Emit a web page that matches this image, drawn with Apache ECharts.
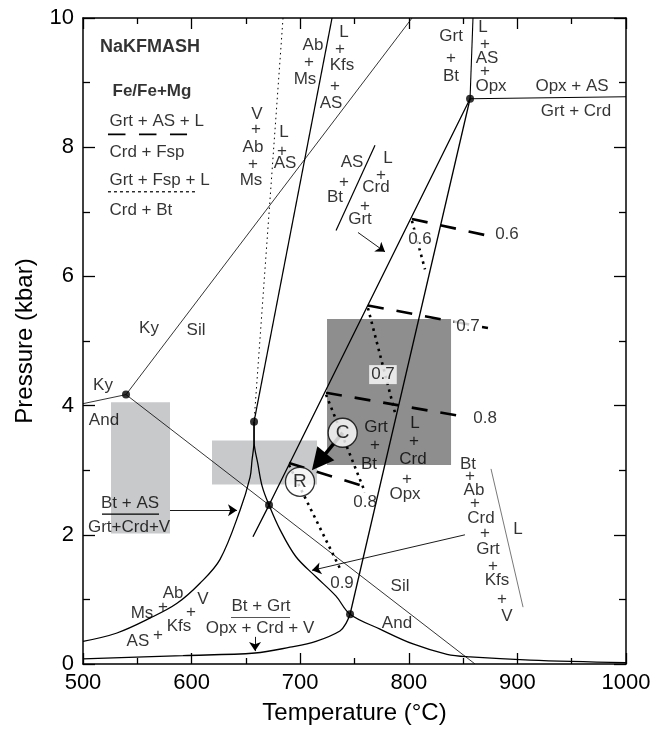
<!DOCTYPE html>
<html><head><meta charset="utf-8">
<script src="https://cdn.jsdelivr.net/npm/echarts@6/dist/echarts.min.js"></script>
<style>html,body{margin:0;padding:0;background:#fff}#c{width:665px;height:730px}</style>
</head><body><div id="c"></div>
<script>
// ---------- data (T in °C, P in kbar) ----------
const kyAnd = [[500,4.03],[539.6,4.17]];
const kySil = [[539.6,4.17],[803,10]];
const silAnd = [[539.6,4.17],[861,0]];
const wetSolidus = [[684.2,10],[657.5,3.75]];
const msMelt = [[729.3,10],[657.5,3.75]];
const cuspLeft = [[657.5,3.75],[657.5,3.46],[655.6,3.15],[653.8,2.89],[644.6,2.38],[626.2,1.62],[607.7,1.25],[586.6,0.94],[561.7,0.71],[531.3,0.48],[500,0.35]];
const cuspRight = [[657.5,3.75],[657.5,3.46],[661.1,3.09],[665,2.75],[671.3,2.46],[681.4,2.08],[696.1,1.66],[714.5,1.35],[733,1.05],[745.9,0.77],[773.5,0.54],[803.9,0.31],[835.2,0.15],[856.4,0.11],[911.6,0.06],[1000,0.02]];
const btGrtCurve = [[500,0.08],[592,0.13],[658.4,0.17],[690.6,0.26],[714.5,0.35],[736.6,0.51],[742.2,0.63],[745.9,0.77]];
const longLine = [[856.4,8.75],[671.3,2.46],[656.5,1.97]];
const steepLine = [[856.4,8.75],[745.9,0.77]];
const upLine = [[856.4,8.75],[859.1,10]];
const opxLine = [[856.4,8.75],[1000,8.78]];
const sepLineA = [[768.9,8.03],[733.0,6.71]];
const sepLineB = [[875.7,3.02],[905.2,0.88]];
const dashed06 = [[802.9,6.89],[872.9,6.63]];
const dashed07 = [[762.4,5.55],[872.9,5.2]];
const dashed08 = [[723.8,4.2],[853.6,3.82]];
const dashed09 = [[689.7,3.11],[764.3,2.72]];
const dotted06 = [[802.9,6.86],[814.9,6.11]];
const dotted07 = [[762.4,5.51],[787.3,3.89]];
const dotted08 = [[723.8,4.17],[759.7,2.66]];
const dotted09 = [[689.7,3.08],[736.6,1.48]];
const invariantPoints = [[539.6,4.17],[657.5,3.75],[671.3,2.46],[745.9,0.77],[856.4,8.75]];
const lightRects = [[[525.8,2.02],[580.1,4.05]],[[618.8,2.78],[715.5,3.46]]];
const darkRect = [[724.7,3.08],[838.9,5.34]];
const legendDash = [[523.0,8.2],[595.8,8.2]];
const legendDot = [[523.0,7.31],[605.0,7.31]];
const fracBtAS = [[517.5,2.32],[570.0,2.32]];
const fracBtGrt = [[636.3,0.72],[690.6,0.72]];
const thinArrows = [[[580.1,2.38],[641.8,2.38]],[[658.4,0.42],[658.4,0.2]],[[851.7,2.0],[710.9,1.45]],[[753.2,6.68],[778.1,6.38]]];
const arrowCR = [[739.1,3.58],[717.2,3.13]];
const circles = [[739.1,3.58,'C'],[699.8,2.82,'R']];
const boldLabels = [[561.7,9.55,'NaKFMASH'],[563.5,8.86,'Fe/Fe+Mg']];
const leftLabels = [[523.9,8.4,'Grt + AS + L'],[523.9,7.92,'Crd + Fsp'],[523.9,7.48,'Grt + Fsp + L'],[523.9,7.02,'Crd + Bt']];
const boxedLabels = [[810.3,6.58,'0.6'],[776.2,4.48,'0.7'],[854.5,5.23,'0.7']];
const labels = [
 [711.8,9.58,'Ab'],[708.1,9.31,'+'],[704.4,9.05,'Ms'],
 [740.3,9.78,'L'],[736.6,9.52,'+'],[738.5,9.26,'Kfs'],[732.0,8.94,'+'],[728.4,8.68,'AS'],
 [838.9,9.71,'Grt'],[838.9,9.38,'+'],[838.9,9.09,'Bt'],
 [868.3,9.86,'L'],[870.2,9.6,'+'],[872.0,9.38,'AS'],[870.2,9.18,'+'],[875.7,8.94,'Opx'],
 [660.2,8.51,'V'],[659.3,8.28,'+'],[656.5,8.0,'Ab'],[656.5,7.74,'+'],[654.7,7.49,'Ms'],
 [685.1,8.23,'L'],[683.2,7.94,'+'],[686.0,7.75,'AS'],
 [747.7,7.77,'AS'],[740.3,7.46,'+'],[732.0,7.23,'Bt'],
 [780.8,7.83,'L'],[774.4,7.57,'+'],[769.8,7.38,'Crd'],[759.7,7.08,'+'],[755.1,6.88,'Grt'],
 [950.3,8.95,'Opx + AS'],[954.0,8.55,'Grt + Crd'],
 [560.8,5.2,'Ky'],[604.1,5.17,'Sil'],[518.4,4.32,'Ky'],[519.3,3.77,'And'],
 [769.8,3.66,'Grt'],[768.9,3.38,'+'],[763.4,3.09,'Bt'],
 [805.7,3.72,'L'],[804.8,3.45,'+'],[803.9,3.17,'Crd'],[798.3,2.86,'+'],[796.5,2.62,'Opx'],
 [890.4,6.65,'0.6'],[870.2,3.8,'0.8'],[759.7,2.51,'0.8'],[738.5,1.25,'0.9'],
 [854.5,3.09,'Bt'],[856.4,2.91,'+'],[860.0,2.69,'Ab'],[861.0,2.48,'+'],[866.5,2.25,'Crd'],[870.2,2.02,'+'],
 [872.9,1.77,'Grt'],[877.5,1.51,'+'],[881.2,1.29,'Kfs'],[885.8,1.0,'+'],[890.4,0.74,'V'],[900.6,2.09,'L'],
 [543.3,2.49,'Bt + AS'],[542.4,2.12,'Grt+Crd+V'],
 [582.9,1.09,'Ab'],[573.7,0.88,'+'],[554.3,0.78,'Ms'],[610.5,1.0,'V'],[599.4,0.8,'+'],[588.4,0.58,'Kfs'],[569.1,0.45,'+'],[550.6,0.35,'AS'],
 [663.9,0.89,'Bt + Grt'],[663.0,0.55,'Opx + Crd + V'],
 [791.9,1.2,'Sil'],[789.1,0.63,'And']
];

// ---------- chart ----------
const FONT = "'Liberation Sans', Arial, Helvetica, sans-serif";
const INK = '#000';
function lineS(data, width, type, smooth, color){
  return {type:'line', data:data, showSymbol:false, symbol:'none', smooth:smooth||false, silent:true,
    lineStyle:{color:color||INK, width:width, type:type||'solid'}, z:5, animation:false};
}
function textS(data, opts){
  return {type:'scatter', silent:true, z: opts.z||20, symbolSize:1, itemStyle:{color:'rgba(0,0,0,0)'},
    data:data.map(d=>({value:[d[0],d[1]], name:d[2]})),
    label:Object.assign({show:true, position:'inside', formatter:'{b}', color:INK, fontFamily:FONT, fontSize:17}, opts.label||{}),
    animation:false};
}
const axisCommon = {min:500,max:1000,interval:100,splitLine:{show:false},
  axisLine:{onZero:false,lineStyle:{color:'#000',width:1.5}},
  axisTick:{inside:true,length:11,lineStyle:{color:'#000',width:1.3}},
  minorTick:{show:true,splitNumber:2,length:6,lineStyle:{color:'#000',width:1.3}}};
const yCommon = {min:0,max:10,interval:2,splitLine:{show:false},
  axisLine:{onZero:false,lineStyle:{color:'#000',width:1.5}},
  axisTick:{inside:true,length:12,lineStyle:{color:'#000',width:1.3}},
  minorTick:{show:true,splitNumber:2,length:7,lineStyle:{color:'#000',width:1.3}}};

const series = [];
series.push({type:'line', data:[], silent:true, z:1, markArea:{silent:true, itemStyle:{color:'#c8c9cb'},
  data:lightRects.map(r=>[{coord:r[0]},{coord:r[1]}])}});
series.push({type:'line', data:[], silent:true, z:1, markArea:{silent:true, itemStyle:{color:'#8e8e8f'},
  data:[[{coord:darkRect[0]},{coord:darkRect[1]}]]}});
series.push(lineS(kyAnd,0.8));
series.push(lineS(kySil,0.8));
series.push(lineS(silAnd,0.8));
series.push(lineS(wetSolidus,1,[1.5,3.5]));
series.push(lineS(msMelt,1.3));
series.push(lineS(cuspLeft,1.3,'solid',0.35));
series.push(lineS(cuspRight,1.3,'solid',0.35));
series.push(lineS(btGrtCurve,1.3,'solid',0.35));
series.push(lineS(longLine,1.3));
series.push(lineS(steepLine,1.3));
series.push(lineS(upLine,1.1));
series.push(lineS(opxLine,1.1));
series.push(lineS(sepLineA,1.2));
series.push(lineS(sepLineB,0.8,'solid',false,'#555'));
[dashed06,dashed07,dashed08,dashed09].forEach(d=>series.push(lineS(d,2.6,[16,13])));
[dotted06,dotted07,dotted08,dotted09].forEach(d=>series.push(lineS(d,2.6,[2.5,4.5])));
series.push(lineS(legendDash,1.8,[17.5,13.5]));
series.push(lineS(legendDot,1.2,[3,3]));
series.push(lineS(fracBtAS,1.2));
series.push(lineS(fracBtGrt,1.2,'solid',false,'#555'));
series.push({type:'scatter', silent:true, z:9, symbolSize:8, itemStyle:{color:INK}, data:invariantPoints, animation:false});
series.push({type:'lines', coordinateSystem:'cartesian2d', silent:true, z:8, animation:false,
  symbol:['none','arrow'], symbolSize:9,
  lineStyle:{color:INK,width:0.9,opacity:1,curveness:0},
  data:thinArrows.map(a=>({coords:a}))});
series.push({type:'lines', coordinateSystem:'cartesian2d', silent:true, z:11, animation:false,
  symbol:['none','triangle'], symbolSize:22,
  lineStyle:{color:INK,width:3.5,opacity:1,curveness:0},
  data:[{coords:arrowCR}]});
series.push({type:'scatter', silent:true, z:12, symbolSize:29, animation:false,
  itemStyle:{color:'#fff',borderColor:INK,borderWidth:1.3},
  data:circles.map(c=>({value:[c[0],c[1]],name:c[2]})),
  label:{show:true,position:'inside',formatter:'{b}',color:INK,fontFamily:FONT,fontSize:19}});
series.push(textS(labels,{}));
series.push(textS(leftLabels,{label:{position:'right',distance:0}}));
series.push(textS(boxedLabels,{z:15,label:{backgroundColor:'#fff',padding:[1,2]}}));
const boldSeries = textS(boldLabels,{label:{fontWeight:'bold',fontSize:18}});
boldSeries.data[1].label = {fontSize:17};
series.push(boldSeries);

const option = {
  animation:false,
  textStyle:{fontFamily:FONT},
  grid:{left:83,right:39,top:18,bottom:62,containLabel:false},
  xAxis:[
    Object.assign({type:'value',position:'bottom',
      axisLabel:{fontSize:22,color:INK,margin:8,fontFamily:FONT,formatter:v=>String(v)},
      name:'Temperature (°C)',nameLocation:'middle',nameGap:37,
      nameTextStyle:{fontSize:24,color:INK,fontFamily:FONT}},axisCommon),
    Object.assign({type:'value',position:'top',axisLabel:{show:false}},axisCommon)
  ],
  yAxis:[
    Object.assign({type:'value',position:'left',
      axisLabel:{fontSize:22,color:INK,margin:9,fontFamily:FONT,formatter:v=>String(v)},
      name:'Pressure (kbar)',nameLocation:'middle',nameGap:46,nameRotate:90,
      nameTextStyle:{fontSize:24,color:INK,fontFamily:FONT}},yCommon),
    Object.assign({type:'value',position:'right',axisLabel:{show:false}},yCommon)
  ],
  series:series
};
const chart = echarts.init(document.getElementById('c'),null,{renderer:'canvas'});
chart.setOption(option);
</script>
</body></html>
